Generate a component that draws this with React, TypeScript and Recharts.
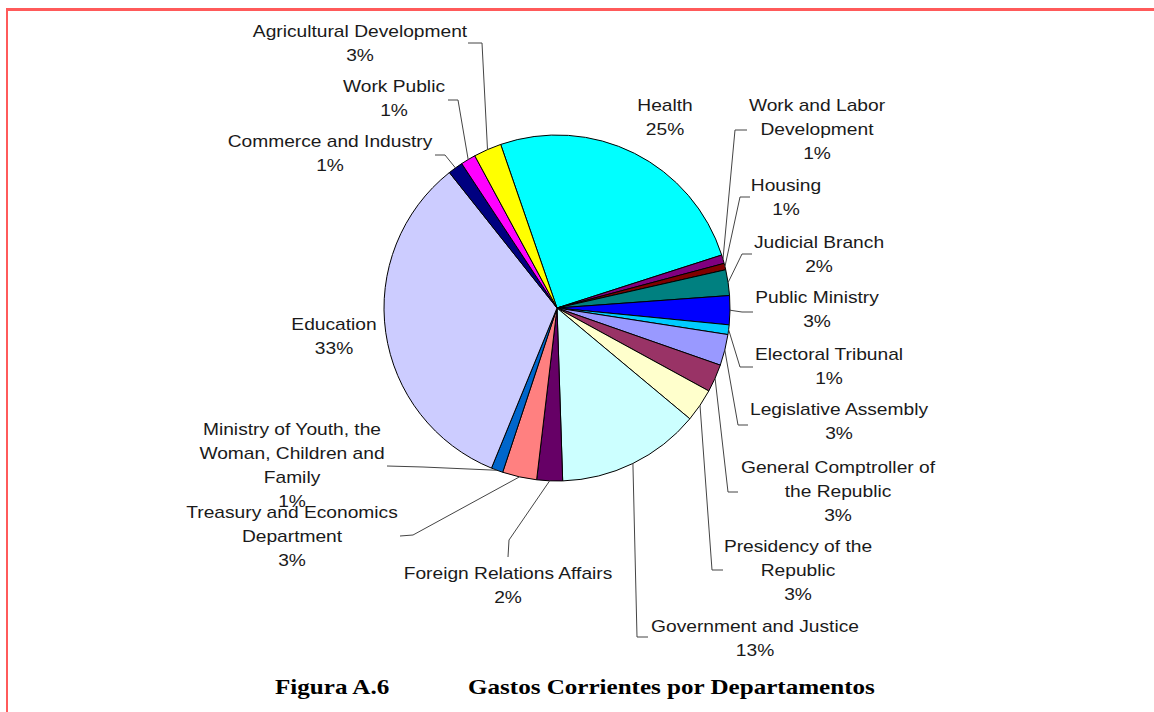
import { PieChart, Pie, Cell } from "recharts"

const departments = [
  "Health",
  "Work and Labor Development",
  "Housing",
  "Judicial Branch",
  "Public Ministry",
  "Electoral Tribunal",
  "Legislative Assembly",
  "General Comptroller of the Republic",
  "Presidency of the Republic",
  "Government and Justice",
  "Foreign Relations Affairs",
  "Treasury and Economics Department",
  "Ministry of Youth, the Woman, Children and Family",
  "Education",
  "Commerce and Industry",
  "Work Public",
  "Agricultural Development",
]

const shares = [25.3, 0.8, 0.6, 2.4, 2.7, 0.9, 2.9, 2.6, 3.1, 13.4, 2.4, 3.2, 1.1, 33.1, 1.4, 1.4, 2.6]

const colors = [
  "#00FFFF", "#800080", "#800000", "#008080", "#0000FF", "#00CCFF", "#9999FF", "#993366",
  "#FFFFCC", "#CCFFFF", "#660066", "#FF8080", "#0066CC", "#CCCCFF", "#000080", "#FF00FF", "#FFFF00",
]

// label text as it is wrapped in the picture
const wrapped = [
  ["Health"],
  ["Work and Labor", "Development"],
  ["Housing"],
  ["Judicial Branch"],
  ["Public Ministry"],
  ["Electoral Tribunal"],
  ["Legislative Assembly"],
  ["General Comptroller of", "the Republic"],
  ["Presidency of the", "Republic"],
  ["Government and Justice"],
  ["Foreign Relations Affairs"],
  ["Treasury and Economics", "Department"],
  ["Ministry of Youth, the", "Woman, Children and", "Family"],
  ["Education"],
  ["Commerce and Industry"],
  ["Work Public"],
  ["Agricultural Development"],
]

const data = departments.map((name, i) => ({ name, value: shares[i] }))

// label placement, relative to the pie centre
const labelOffset = [
  [108, -202], [260, -202], [229, -122], [262, -65], [260, -10], [272, 47], [282, 102],
  [281, 160], [241, 239], [198, 319], [-49, 266], [-265, 205], [-265, 122], [-223, 17],
  [-227, -166], [-163, -221], [-197, -276],
]

// leader line bends, relative to the pie centre
const leaderBends: number[][][] = [
  [],
  [[178, -178], [190, -178]],
  [[183, -111], [193, -111]],
  [[185, -54], [195, -54]],
  [[185, 4], [196, 4]],
  [[183, 59], [196, 59]],
  [[181, 117], [191, 117]],
  [[171, 184], [181, 184]],
  [[155, 262], [166, 262]],
  [[80, 329], [91, 329]],
  [[-48, 232], [-49, 249]],
  [[-144, 227], [-157, 228]],
  [[-134, 159], [-170, 158]],
  [],
  [[-112, -153], [-122, -153]],
  [[-99, -208], [-109, -208]],
  [[-75, -265], [-89, -265]],
]

const LINE_H = 24
const RAD = Math.PI / 180

const renderLabel = (props: any) => {
  const { cx, cy, midAngle, outerRadius, index, percent } = props
  const sx = cx + outerRadius * Math.cos(-midAngle * RAD)
  const sy = cy + outerRadius * Math.sin(-midAngle * RAD)
  const [lx, ly] = labelOffset[index]
  const lines = [...wrapped[index], `${Math.round(percent * 100)}%`]
  const bends = leaderBends[index]
  const pts = [[sx, sy], ...bends.map(([bx, by]) => [cx + bx, cy + by])]
  return (
    <g>
      {bends.length > 0 && (
        <polyline
          points={pts.map((p) => p.join(",")).join(" ")}
          fill="none"
          stroke="#444"
          strokeWidth={1}
        />
      )}
      {lines.map((t, k) => (
        <text
          key={k}
          transform={`translate(${cx + lx},${cy + ly + k * LINE_H}) scale(1.2,1)`}
          textAnchor="middle"
          dominantBaseline="central"
          fontFamily="'Liberation Sans', Arial, sans-serif"
          fontSize={16}
          fill="#1a1a1a"
        >
          {t}
        </text>
      ))}
    </g>
  )
}

export default function App() {
  return (
    <div style={{ position: "absolute", left: 0, top: 0, width: 1154, height: 712, background: "#fff" }}>
      <PieChart width={1154} height={712} margin={{ top: 0, right: 0, bottom: 0, left: 0 }}>
        <Pie
          data={data}
          dataKey="value"
          nameKey="name"
          cx={557}
          cy={308}
          outerRadius={173}
          startAngle={109}
          endAngle={-251}
          stroke="#000"
          strokeWidth={1}
          label={renderLabel}
          labelLine={false}
          isAnimationActive={false}
        >
          {data.map((d, i) => (
            <Cell key={d.name} fill={colors[i]} />
          ))}
        </Pie>
      </PieChart>
      <svg width={1154} height={712} style={{ position: "absolute", left: 0, top: 0, pointerEvents: "none" }}>
        <rect x={6} y={8} width={1148} height={3} fill="#ff5a5a" />
        <rect x={6} y={8} width={2} height={704} fill="#ff5a5a" />
        <g fontFamily="'Liberation Serif', 'Times New Roman', serif" fontWeight="bold" fontSize={22} fill="#000">
          <text transform="translate(275,694) scale(1.14,1)">Figura A.6</text>
          <text transform="translate(468,694) scale(1.14,1)">Gastos Corrientes por Departamentos</text>
        </g>
      </svg>
    </div>
  )
}
